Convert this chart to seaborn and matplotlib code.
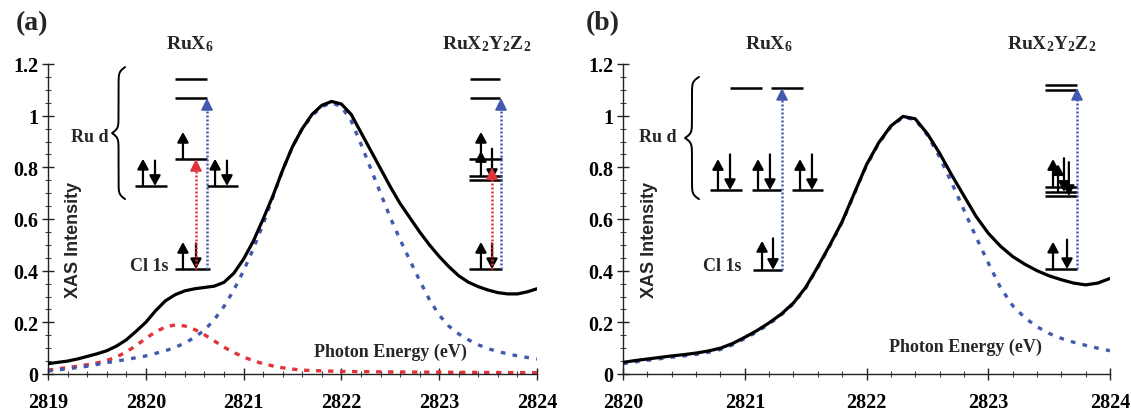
import numpy as np
import pandas as pd
import matplotlib
matplotlib.use("Agg")
import matplotlib.pyplot as plt
import seaborn as sns
from matplotlib.ticker import MultipleLocator, FuncFormatter

# ---------------- data ----------------
energy_a = [2819.0, 2819.1, 2819.2, 2819.3, 2819.4, 2819.5, 2819.6, 2819.7, 2819.8, 2819.9,
            2820.0, 2820.1, 2820.2, 2820.3, 2820.4, 2820.5, 2820.6, 2820.7, 2820.8, 2820.9,
            2821.0, 2821.1, 2821.2, 2821.3, 2821.4, 2821.5, 2821.6, 2821.7, 2821.8, 2821.9,
            2822.0, 2822.1, 2822.2, 2822.3, 2822.4, 2822.5, 2822.6, 2822.7, 2822.8, 2822.9,
            2823.0, 2823.1, 2823.2, 2823.3, 2823.4, 2823.5, 2823.6, 2823.7, 2823.8, 2823.9,
            2824.0]
total_a = [0.040, 0.045, 0.050, 0.058, 0.068, 0.078, 0.090, 0.108, 0.132, 0.165,
           0.200, 0.245, 0.283, 0.307, 0.322, 0.330, 0.335, 0.340, 0.355, 0.390,
           0.445, 0.515, 0.600, 0.690, 0.790, 0.880, 0.950, 1.005, 1.040, 1.055,
           1.045, 1.005, 0.935, 0.865, 0.795, 0.725, 0.660, 0.605, 0.550, 0.500,
           0.455, 0.415, 0.380, 0.355, 0.338, 0.325, 0.315, 0.310, 0.310, 0.318,
           0.330]
main_a = [0.012, 0.016, 0.020, 0.025, 0.030, 0.037, 0.044, 0.050, 0.056, 0.063,
          0.070, 0.080, 0.090, 0.103, 0.120, 0.142, 0.170, 0.210, 0.262, 0.325,
          0.400, 0.485, 0.580, 0.685, 0.790, 0.880, 0.950, 1.000, 1.035, 1.050,
          1.035, 0.980, 0.890, 0.795, 0.700, 0.605, 0.520, 0.440, 0.362, 0.288,
          0.228, 0.185, 0.155, 0.132, 0.113, 0.098, 0.087, 0.078, 0.070, 0.064,
          0.058]
energy_pre = [2819.0, 2819.1, 2819.2, 2819.3, 2819.4, 2819.5, 2819.6, 2819.7, 2819.8, 2819.9,
              2820.0, 2820.1, 2820.2, 2820.3, 2820.4, 2820.5, 2820.6, 2820.7, 2820.8, 2820.9,
              2821.0, 2821.1, 2821.2, 2821.3, 2821.4, 2821.5, 2821.6, 2821.8, 2822.0, 2822.5,
              2823.0, 2823.5, 2824.0]
pre_a = [0.015, 0.020, 0.025, 0.030, 0.036, 0.043, 0.052, 0.066, 0.085, 0.110,
         0.138, 0.163, 0.182, 0.190, 0.186, 0.172, 0.152, 0.128, 0.104, 0.083,
         0.066, 0.051, 0.040, 0.031, 0.024, 0.019, 0.015, 0.012, 0.010, 0.008,
         0.007, 0.006, 0.005]

energy_b = [2820.0, 2820.1, 2820.2, 2820.3, 2820.4, 2820.5, 2820.6, 2820.7, 2820.8, 2820.9,
            2821.0, 2821.1, 2821.2, 2821.3, 2821.4, 2821.5, 2821.6, 2821.7, 2821.8, 2821.9,
            2822.0, 2822.1, 2822.2, 2822.3, 2822.4, 2822.5, 2822.6, 2822.7, 2822.8, 2822.9,
            2823.0, 2823.1, 2823.2, 2823.3, 2823.4, 2823.5, 2823.6, 2823.7, 2823.8, 2823.9,
            2824.0]
total_b = [0.045, 0.052, 0.058, 0.064, 0.070, 0.075, 0.081, 0.089, 0.100, 0.118,
           0.142, 0.168, 0.198, 0.232, 0.275, 0.335, 0.415, 0.500, 0.590, 0.700,
           0.810, 0.895, 0.960, 0.997, 0.988, 0.930, 0.855, 0.770, 0.690, 0.610,
           0.545, 0.495, 0.455, 0.425, 0.400, 0.380, 0.365, 0.352, 0.345, 0.352,
           0.370]
main_b = [0.040, 0.047, 0.053, 0.059, 0.065, 0.070, 0.076, 0.084, 0.095, 0.113,
          0.137, 0.163, 0.194, 0.229, 0.272, 0.332, 0.412, 0.497, 0.587, 0.697,
          0.807, 0.892, 0.957, 0.994, 0.985, 0.925, 0.840, 0.740, 0.635, 0.530,
          0.430, 0.335, 0.265, 0.218, 0.183, 0.157, 0.138, 0.123, 0.111, 0.100,
          0.090]

x_ticks_a = [2819, 2820, 2821, 2822, 2823, 2824]
x_ticks_b = [2820, 2821, 2822, 2823, 2824]
y_ticks = [0, 0.2, 0.4, 0.6, 0.8, 1.0, 1.2]

BLUE = "#4259ad"
RED = "#e2323a"
SERIF = "Liberation Serif"

# ---------------- style ----------------
sns.set_style("ticks")
plt.rcParams.update({
    "font.family": [SERIF, "DejaVu Serif"],
    "font.weight": "bold",
    "mathtext.fontset": "custom",
    "mathtext.rm": "Liberation Serif:bold",
    "mathtext.it": "Liberation Serif:bold:italic",
    "mathtext.bf": "Liberation Serif:bold",
    "axes.linewidth": 1.0,
    "axes.edgecolor": "#222222",
})

W, H = 1131, 414
fig = plt.figure(figsize=(W / 100, H / 100), dpi=100)
ax_a = fig.add_axes([48 / W, (H - 375) / H, 489 / W, 310 / H])
ax_b = fig.add_axes([623 / W, (H - 375) / H, 487 / W, 310 / H])


def style_axes(ax, xlim, xticks):
    ax.set_xlim(*xlim)
    ax.set_ylim(0, 1.2)
    ax.set_xticks(xticks)
    ax.set_yticks(y_ticks)
    ax.xaxis.set_minor_locator(MultipleLocator(0.2))
    ax.yaxis.set_minor_locator(MultipleLocator(0.05))
    ax.yaxis.set_major_formatter(FuncFormatter(lambda v, _: f"{v:g}"))
    ax.xaxis.set_major_formatter(FuncFormatter(lambda v, _: f"{v:.0f}"))
    for s in ("top", "right"):
        ax.spines[s].set_visible(False)
    ax.tick_params(which="major", direction="inout", length=8, width=1.0,
                   labelsize=14.5, colors="#222222", labelcolor="black")
    ax.tick_params(axis="y", which="major", pad=3)
    ax.tick_params(axis="x", which="major", pad=9)
    ax.tick_params(which="minor", direction="inout", length=4, width=0.8,
                   colors="#444444")
    for lab in ax.get_xticklabels() + ax.get_yticklabels():
        lab.set_fontweight("bold")
        lab.set_fontfamily(SERIF)
    ax.set_xlabel("")
    ax.set_ylabel("")


dash_main = (0, (1.4, 2.2))
dash_pre = (0, (1.6, 2.0))

# panel (a) curves
sns.lineplot(x=energy_pre, y=pre_a, ax=ax_a, color=RED, lw=2.4,
             linestyle=dash_pre, estimator=None, sort=False, zorder=2)
sns.lineplot(x=energy_a, y=main_a, ax=ax_a, color=BLUE, lw=2.4,
             linestyle=dash_main, estimator=None, sort=False, zorder=2)
sns.lineplot(x=energy_a, y=total_a, ax=ax_a, color="black", lw=2.3,
             estimator=None, sort=False, zorder=3)
# panel (b) curves
sns.lineplot(x=energy_b, y=main_b, ax=ax_b, color=BLUE, lw=2.4,
             linestyle=dash_main, estimator=None, sort=False, zorder=2)
sns.lineplot(x=energy_b, y=total_b, ax=ax_b, color="black", lw=2.3,
             estimator=None, sort=False, zorder=3)

style_axes(ax_a, (2819, 2824), x_ticks_a)
style_axes(ax_b, (2820, 2824), x_ticks_b)


# ---------------- energy level diagrams (annotations) ----------------
def px_scale(ax):
    xr = ax.get_xlim()
    bbox = ax.get_position()
    wpx = bbox.width * W
    hpx = bbox.height * H
    return wpx / (xr[1] - xr[0]), hpx / 1.2


def level(ax, x0, x1, y):
    ax.plot([x0, x1], [y, y], color="black", lw=1.8, solid_capstyle="butt",
            zorder=5, clip_on=False)


def spin(ax, x, y0, y1):
    ax.annotate("", xy=(x, y1), xytext=(x, y0),
                arrowprops=dict(arrowstyle="-|>,head_length=0.55,head_width=0.3",
                                lw=1.6, color="black", shrinkA=0, shrinkB=0,
                                mutation_scale=11),
                zorder=6, annotation_clip=False)


def transition(ax, x, y0, y1, color):
    kx, ky = px_scale(ax)
    head = 9 / ky
    ax.plot([x, x], [y0, y1 - head * 0.6], color=color, lw=1.8,
            linestyle=(0, (0.8, 0.8)), zorder=7, clip_on=False)
    ax.annotate("", xy=(x, y1), xytext=(x, y1 - head),
                arrowprops=dict(arrowstyle="-|>,head_length=0.6,head_width=0.3",
                                lw=1.2, color=color, shrinkA=0, shrinkB=0,
                                mutation_scale=12),
                zorder=8, annotation_clip=False)


def brace(ax, x_tip, y_top, y_bot, width_px):
    kx, ky = px_scale(ax)
    half = (y_top - y_bot) * ky / 2
    s = np.linspace(0, half, 300)
    beta = 0.42
    f = 1 / (1 + np.exp(-beta * s)) + 1 / (1 + np.exp(-beta * (s - half)))
    xpx = width_px * (1.5 - f)
    xs = np.concatenate([x_tip + xpx / kx, (x_tip + xpx / kx)[::-1]])
    ys = np.concatenate([y_top - s / ky, (y_bot + s / ky)[::-1]])
    ax.plot(xs, ys, color="black", lw=1.4, zorder=5, clip_on=False)


def label(ax, x, y, txt, **kw):
    ax.text(x, y, txt, fontsize=kw.pop("fontsize", 13), fontweight="bold",
            family=SERIF, zorder=9, **kw)


# --- panel (a), RuX6 ---
a_hi = [(2820.299, 2820.626, 1.142), (2820.299, 2820.626, 1.068)]
a_mid = [(2820.299, 2820.626, 0.832), (2819.890, 2820.217, 0.728), (2820.626, 2820.943, 0.728)]
for x0, x1, y in a_hi + a_mid:
    level(ax_a, x0, x1, y)
level(ax_a, 2820.299, 2820.656, 0.406)
spin(ax_a, 2819.971, 0.728, 0.833)
spin(ax_a, 2820.094, 0.826, 0.728)
spin(ax_a, 2820.380, 0.832, 0.937)
spin(ax_a, 2820.708, 0.728, 0.833)
spin(ax_a, 2820.830, 0.826, 0.728)
spin(ax_a, 2820.380, 0.406, 0.511)
spin(ax_a, 2820.513, 0.505, 0.406)
transition(ax_a, 2820.513, 0.406, 0.832, RED)
transition(ax_a, 2820.626, 0.406, 1.068, BLUE)
brace(ax_a, 2819.655, 1.188, 0.677, 13)
label(ax_a, 2819.62, 0.921, "Ru d", ha="right", va="center")
label(ax_a, 2820.23, 0.420, "Cl 1s", ha="right", va="center")

# --- panel (a), RuX2Y2Z2 ---
for y in (1.142, 1.068):
    level(ax_a, 2823.315, 2823.622, y)
for y in (0.832, 0.766, 0.751):
    level(ax_a, 2823.305, 2823.642, y)
level(ax_a, 2823.305, 2823.642, 0.406)
spin(ax_a, 2823.427, 0.832, 0.937)
spin(ax_a, 2823.427, 0.766, 0.863)
spin(ax_a, 2823.540, 0.872, 0.751)
spin(ax_a, 2823.427, 0.406, 0.511)
spin(ax_a, 2823.540, 0.505, 0.406)
transition(ax_a, 2823.540, 0.406, 0.80, RED)
transition(ax_a, 2823.632, 0.406, 1.068, BLUE)

# --- panel (b), RuX6 ---
level(ax_b, 2820.879, 2821.142, 1.107)
level(ax_b, 2821.216, 2821.479, 1.107)
for x0, x1 in ((2820.715, 2820.977), (2821.060, 2821.298), (2821.388, 2821.643)):
    level(ax_b, x0, x1, 0.712)
for xu, xd in ((2820.780, 2820.879), (2821.109, 2821.207), (2821.454, 2821.552)):
    spin(ax_b, xu, 0.712, 0.832)
    spin(ax_b, xd, 0.850, 0.712)
level(ax_b, 2821.068, 2821.306, 0.403)
spin(ax_b, 2821.142, 0.403, 0.515)
spin(ax_b, 2821.232, 0.525, 0.403)
transition(ax_b, 2821.306, 0.403, 1.107, BLUE)
brace(ax_b, 2820.509, 1.150, 0.677, 14)
label(ax_b, 2820.44, 0.921, "Ru d", ha="right", va="center")
label(ax_b, 2820.977, 0.420, "Cl 1s", ha="right", va="center")

# --- panel (b), RuX2Y2Z2 ---
for y in (1.117, 1.101):
    level(ax_b, 2823.466, 2823.729, y)
for y in (0.724, 0.705, 0.689):
    level(ax_b, 2823.466, 2823.729, y)
level(ax_b, 2823.466, 2823.729, 0.406)
spin(ax_b, 2823.532, 0.724, 0.832)
spin(ax_b, 2823.573, 0.705, 0.812)
spin(ax_b, 2823.622, 0.835, 0.705)
spin(ax_b, 2823.662, 0.820, 0.689)
spin(ax_b, 2823.532, 0.406, 0.512)
spin(ax_b, 2823.647, 0.520, 0.406)
transition(ax_b, 2823.729, 0.406, 1.107, BLUE)


# ---------------- texts ----------------
def ftext(xp, yp, txt, size, family=SERIF, rotation=0):
    fig.text(xp / W, 1 - yp / H, txt, fontsize=size, fontweight="bold",
             family=family, ha="center", va="center", rotation=rotation)


ftext(32, 24, "(a)", 20)
ftext(603, 24, "(b)", 20)
ftext(190, 44, "RuX$_6$", 14)
ftext(487, 44, "RuX$_2$Y$_2$Z$_2$", 14)
ftext(769, 44, "RuX$_6$", 14)
ftext(1052, 44, "RuX$_2$Y$_2$Z$_2$", 14)
ftext(390, 352, "Photon Energy (eV)", 13)
ftext(965, 347, "Photon Energy (eV)", 13)
ftext(74, 240, "XAS Intensity", 13, family=["Liberation Sans", "DejaVu Sans"], rotation=90)
ftext(650, 240, "XAS Intensity", 13, family=["Liberation Sans", "DejaVu Sans"], rotation=90)

fig.savefig("out.png", dpi=100)
